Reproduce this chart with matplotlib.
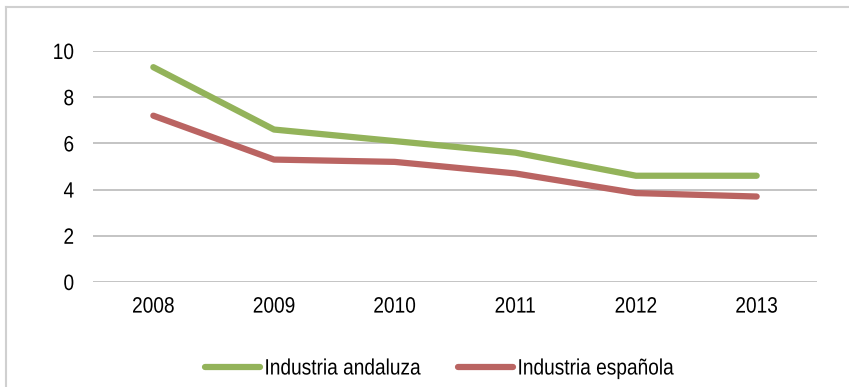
import matplotlib
matplotlib.use("Agg")
import matplotlib.pyplot as plt
from matplotlib.lines import Line2D
from matplotlib.patheffects import AbstractPathEffect
from matplotlib.transforms import Affine2D

years = ["2008", "2009", "2010", "2011", "2012", "2013"]
andaluza = [9.3, 6.6, 6.1, 5.6, 4.6, 4.6]
espanola = [7.2, 5.3, 5.2, 4.7, 3.85, 3.7]
series_names = ["Industria andaluza", "Industria española"]
yticks = [0, 2, 4, 6, 8, 10]

green = "#93B35A"
red = "#BA6462"

plt.rcParams["font.family"] = ["Liberation Sans", "DejaVu Sans"]
fsize = 16


class Condensed(AbstractPathEffect):
    """Draw text horizontally squeezed, like a narrow typeface."""

    def __init__(self, sx=0.86, anchor="center"):
        super().__init__()
        self.sx = sx
        self.anchor = anchor

    def draw_path(self, renderer, gc, tpath, affine, rgbFace=None):
        ext = tpath.get_extents()
        if self.anchor == "left":
            cx = ext.x0
        elif self.anchor == "right":
            cx = ext.x1
        else:
            cx = (ext.x0 + ext.x1) / 2
        pre = Affine2D().translate(-cx, 0).scale(self.sx, 1).translate(cx, 0)
        renderer.draw_path(gc, tpath, pre + affine, rgbFace)


W, H = 849, 387
fig = plt.figure(figsize=(W / 100, H / 100), dpi=100)

# outer frame (top and left edges visible)
fig.add_artist(Line2D([6 / W, 1.0], [1 - 7 / H, 1 - 7 / H], color="#D0D0D0", lw=1.5,
                      transform=fig.transFigure))
fig.add_artist(Line2D([6 / W, 6 / W], [0, 1 - 7 / H], color="#D0D0D0", lw=1.5,
                      transform=fig.transFigure))

left, right = 93 / W, 817 / W
bottom, top = 1 - 282 / H, 1 - 51 / H
ax = fig.add_axes([left, bottom, right - left, top - bottom])

x = list(range(len(years)))
ax.plot(x, andaluza, color=green, lw=4.5, solid_capstyle="round", solid_joinstyle="round",
        label=series_names[0], zorder=3)
ax.plot(x, espanola, color=red, lw=4.5, solid_capstyle="round", solid_joinstyle="round",
        label=series_names[1], zorder=3)

ax.set_xlim(-0.5, len(years) - 0.5)
ax.set_ylim(0, 10)
ax.set_yticks(yticks)
ax.set_yticklabels([str(v) for v in yticks])
ax.set_xticks(x)
ax.set_xticklabels(years)
ax.yaxis.grid(True, color="#BFBFBF", lw=1.3)
ax.set_axisbelow(True)
for s in ax.spines.values():
    s.set_visible(False)
ax.tick_params(axis="both", length=0, labelsize=fsize, colors="#000000")
ax.tick_params(axis="y", pad=13.5)
ax.tick_params(axis="x", pad=10.5)

for lab in ax.get_xticklabels():
    lab.set_path_effects([Condensed(0.86, "center")])
for lab in ax.get_yticklabels():
    lab.set_path_effects([Condensed(0.86, "right")])

leg = fig.legend(loc="center", bbox_to_anchor=(452 / W, 1 - 369 / H), ncol=2, frameon=False,
                 fontsize=fsize, handlelength=2.5, handletextpad=0.18, columnspacing=0.5,
                 borderpad=0, borderaxespad=0)
for t in leg.get_texts():
    t.set_path_effects([Condensed(0.86, "left")])

fig.savefig("out.png", dpi=100, facecolor="white")
